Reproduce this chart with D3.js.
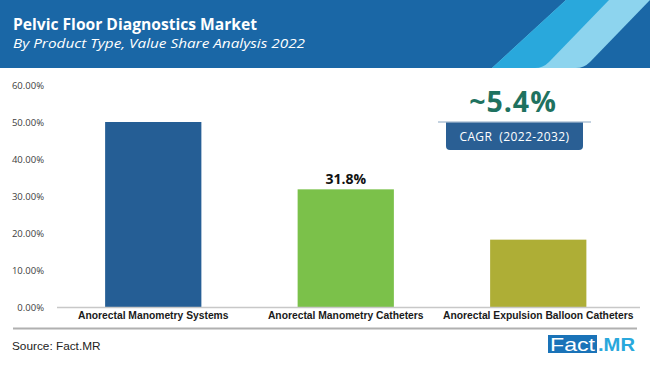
<!DOCTYPE html>
<html><head><meta charset="utf-8">
<script src="https://cdn.jsdelivr.net/npm/d3@7/dist/d3.min.js"></script>
<style>body{margin:0;background:#fff;}svg{display:block;}</style>
</head><body>
<svg id="c" width="650" height="365"></svg>
<script>
const categories = ["Anorectal Manometry Systems", "Anorectal Manometry Catheters", "Anorectal Expulsion Balloon Catheters"];
const values = [50.0, 31.8, 18.2];
const valueLabels = ["", "31.8%", ""];
const colors = ["#255e95", "#7bc14a", "#aeae36"];
const yTicks = [0, 10, 20, 30, 40, 50, 60];

const svg = d3.select("#c");
const font = "'Open Sans', 'Liberation Sans', sans-serif";

// header
svg.append("rect").attr("x",0).attr("y",0).attr("width",650).attr("height",68).attr("fill","#1a67a6");
svg.append("path").attr("fill","#8dd4ee").attr("d","M566,0 L650,0 L590,62 Q584,68 576,68 L492,68 Z");
svg.append("path").attr("fill","#29a8dc").attr("d","M566,0 L609,0 L549,62 Q543,68 535,68 L492,68 Z");
svg.append("text").attr("x",13).attr("y",30).attr("fill","#fff").attr("font-family",font).attr("font-weight","bold").attr("font-size",15.5)
  .attr("textLength",244).attr("lengthAdjust","spacingAndGlyphs").text("Pelvic Floor Diagnostics Market");
svg.append("text").attr("x",13).attr("y",48).attr("fill","#fff").attr("font-family",font).attr("font-style","italic").attr("font-size",13.5)
  .attr("textLength",292).attr("lengthAdjust","spacingAndGlyphs").text("By Product Type, Value Share Analysis 2022");

const x = d3.scaleBand().domain(categories).range([57, 634.5]).paddingInner(0.5).paddingOuter(0.25);
const y = d3.scaleLinear().domain([0, 60]).range([307, 85]);

// y axis labels
const yAxis = d3.axisLeft(y).tickValues(yTicks).tickFormat(d => d.toFixed(2) + "%").tickSize(0).tickPadding(0);
const ya = svg.append("g").attr("transform","translate(44,0)").call(yAxis);
ya.select(".domain").remove();
ya.selectAll("text").attr("font-family",font).attr("font-size",9.5).attr("fill","#404040");

// bars
svg.selectAll("rect.bar").data(values).join("rect").attr("class","bar")
  .attr("x",(d,i)=>x(categories[i])).attr("width",x.bandwidth())
  .attr("y",d=>y(d)).attr("height",d=>y(0)-y(d)).attr("fill",(d,i)=>colors[i]);

// baseline
svg.append("line").attr("x1",57).attr("x2",640).attr("y1",307.5).attr("y2",307.5).attr("stroke","#c8c8c8").attr("stroke-width",1.5);

// value labels
svg.selectAll("text.vl").data(values).join("text").attr("class","vl")
  .attr("x",(d,i)=>x(categories[i])+x.bandwidth()/2).attr("y",d=>y(d)-5)
  .attr("text-anchor","middle").attr("font-family",font).attr("font-weight","bold").attr("font-size",14).attr("fill","#111")
  .text((d,i)=>valueLabels[i]);

// category labels
const xAxis = d3.axisBottom(x).tickSize(0).tickPadding(0);
const xa = svg.append("g").attr("transform","translate(0,312)").call(xAxis);
xa.select(".domain").remove();
xa.selectAll("text").attr("font-family","'Liberation Sans', sans-serif").attr("font-weight","bold").attr("font-size",10.3).attr("fill","#1a1a1a");

// bottom rule
svg.append("line").attr("x1",13).attr("x2",637).attr("y1",328.5).attr("y2",328.5).attr("stroke","#b0b0b0").attr("stroke-width",2);

// CAGR
svg.append("text").attr("x",513).attr("y",112).attr("text-anchor","middle").attr("font-family",font).attr("font-weight","bold").attr("font-size",28.5).attr("letter-spacing",1).attr("fill","#1f7260").text("~5.4%");
svg.append("line").attr("x1",438).attr("x2",591).attr("y1",122).attr("y2",122).attr("stroke","#8aa6c2").attr("stroke-width",1);
svg.append("path").attr("d","M446,122.5 L583,122.5 L583,146 Q583,150 579,150 L450,150 Q446,150 446,146 Z").attr("fill","#2a5f94");
svg.append("text").attr("x",514.5).attr("y",141).attr("text-anchor","middle").attr("font-family",font).attr("font-size",12).attr("letter-spacing",0.4).attr("fill","#fff").attr("xml:space","preserve").text("CAGR  (2022-2032)");

// source
svg.append("text").attr("x",12).attr("y",350).attr("font-family","'Liberation Sans', sans-serif").attr("font-size",11.8).attr("fill","#222").text("Source: Fact.MR");

// logo
svg.append("rect").attr("x",548).attr("y",335).attr("width",49).attr("height",18).attr("fill","#1a73b8");
svg.append("text").attr("x",550).attr("y",351).attr("font-family","'Liberation Sans', sans-serif").attr("font-size",18.5).attr("fill","#fff")
  .attr("textLength",45).attr("lengthAdjust","spacingAndGlyphs").text("Fact");
svg.append("text").attr("x",598).attr("y",351).attr("font-family","'Liberation Sans', sans-serif").attr("font-weight","bold").attr("font-size",18.5).attr("fill","#29a8dc")
  .attr("textLength",37).attr("lengthAdjust","spacingAndGlyphs").text(".MR");
</script>
</body></html>
